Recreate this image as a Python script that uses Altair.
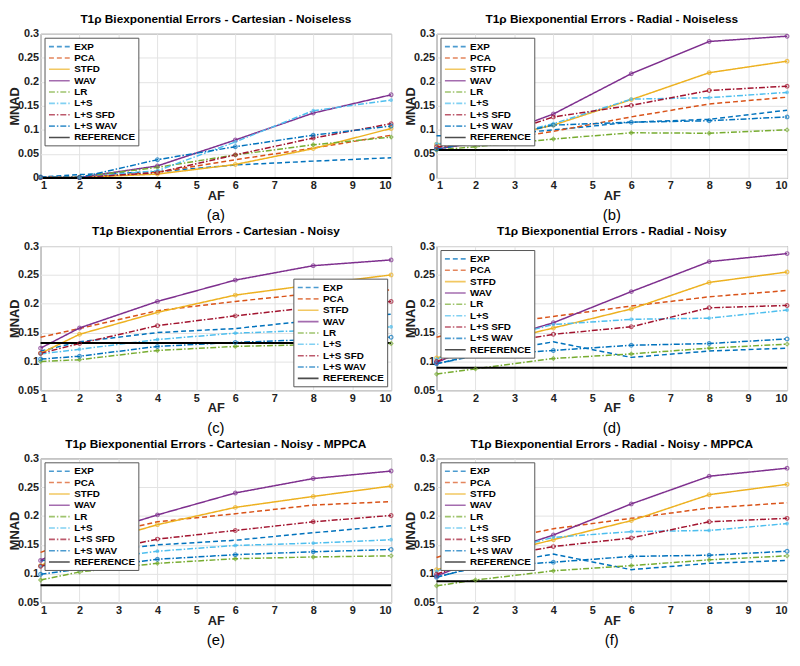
import altair as alt
import pandas as pd

AF = [1, 2, 4, 6, 8, 10]
METHODS = ["EXP", "PCA", "STFD", "WAV", "LR", "L+S", "L+S SFD", "L+S WAV", "REFERENCE"]
COLORS = ["#0072BD", "#D95319", "#EDB120", "#7E2F8E", "#77AC30", "#4DBEEE", "#A2142F", "#0072BD", "#000000"]
DASHES = [[5, 3], [5, 3], [1, 0], [1, 0], [6, 2, 1.5, 2], [6, 2, 1.5, 2], [6, 2, 1.5, 2], [6, 2, 1.5, 2], [1, 0]]
MARKED = ["STFD", "WAV", "LR", "L+S", "L+S SFD", "L+S WAV"]
SHAPES = ["circle", "circle", "diamond",
          "M-1,0L1,0M0,-1L0,1M-0.7,-0.7L0.7,0.7M-0.7,0.7L0.7,-0.7",
          "circle", "circle"]

PANEL_A = {
    "EXP": [0.002, 0.007, 0.013, 0.027, 0.035, 0.042],
    "PCA": [0.002, 0.001, 0.012, 0.038, 0.062, 0.089],
    "STFD": [0.001, 0.001, 0.008, 0.028, 0.061, 0.103],
    "WAV": [0.001, 0.001, 0.025, 0.079, 0.135, 0.173],
    "LR": [0.001, 0.002, 0.022, 0.048, 0.069, 0.085],
    "L+S": [0.001, 0.001, 0.015, 0.075, 0.140, 0.162],
    "L+S SFD": [0.001, 0.001, 0.011, 0.048, 0.083, 0.113],
    "L+S WAV": [0.002, 0.001, 0.038, 0.065, 0.089, 0.108],
}
PANEL_B = {
    "EXP": [0.088, 0.086, 0.100, 0.116, 0.122, 0.141],
    "PCA": [0.062, 0.071, 0.097, 0.127, 0.154, 0.168],
    "STFD": [0.070, 0.073, 0.110, 0.163, 0.219, 0.243],
    "WAV": [0.060, 0.073, 0.133, 0.217, 0.284, 0.295],
    "LR": [0.058, 0.065, 0.081, 0.094, 0.093, 0.100],
    "L+S": [0.071, 0.074, 0.113, 0.164, 0.167, 0.178],
    "L+S SFD": [0.065, 0.072, 0.127, 0.151, 0.182, 0.191],
    "L+S WAV": [0.060, 0.074, 0.110, 0.116, 0.119, 0.127],
}
PANEL_C = {
    "EXP": [0.118, 0.134, 0.150, 0.157, 0.171, 0.182],
    "PCA": [0.142, 0.157, 0.188, 0.204, 0.218, 0.224],
    "STFD": [0.114, 0.147, 0.185, 0.215, 0.233, 0.250],
    "WAV": [0.123, 0.158, 0.204, 0.241, 0.266, 0.276],
    "LR": [0.100, 0.103, 0.119, 0.126, 0.129, 0.131],
    "L+S": [0.113, 0.121, 0.138, 0.149, 0.154, 0.160],
    "L+S SFD": [0.114, 0.131, 0.162, 0.179, 0.194, 0.204],
    "L+S WAV": [0.104, 0.109, 0.126, 0.133, 0.138, 0.142],
}
PANEL_D = {
    "EXP": [0.096, 0.111, 0.134, 0.107, 0.118, 0.123],
    "PCA": [0.142, 0.160, 0.178, 0.196, 0.212, 0.223],
    "STFD": [0.106, 0.125, 0.158, 0.191, 0.237, 0.255],
    "WAV": [0.098, 0.127, 0.167, 0.221, 0.273, 0.287],
    "LR": [0.078, 0.087, 0.105, 0.113, 0.123, 0.130],
    "L+S": [0.104, 0.130, 0.164, 0.173, 0.175, 0.189],
    "L+S SFD": [0.100, 0.124, 0.147, 0.160, 0.193, 0.197],
    "L+S WAV": [0.096, 0.110, 0.119, 0.128, 0.131, 0.139],
}
PANEL_E = {
    "EXP": [0.122, 0.135, 0.150, 0.158, 0.171, 0.183],
    "PCA": [0.137, 0.160, 0.190, 0.204, 0.219, 0.225],
    "STFD": [0.114, 0.146, 0.185, 0.215, 0.234, 0.252],
    "WAV": [0.123, 0.160, 0.202, 0.240, 0.265, 0.278],
    "LR": [0.089, 0.103, 0.118, 0.126, 0.129, 0.131],
    "L+S": [0.113, 0.121, 0.139, 0.149, 0.153, 0.159],
    "L+S SFD": [0.113, 0.131, 0.160, 0.175, 0.190, 0.201],
    "L+S WAV": [0.099, 0.108, 0.125, 0.133, 0.138, 0.142],
}
PANEL_F = {
    "EXP": [0.094, 0.111, 0.134, 0.107, 0.118, 0.123],
    "PCA": [0.128, 0.150, 0.178, 0.196, 0.214, 0.223],
    "STFD": [0.107, 0.125, 0.159, 0.192, 0.237, 0.255],
    "WAV": [0.096, 0.123, 0.167, 0.221, 0.269, 0.283],
    "LR": [0.079, 0.089, 0.105, 0.114, 0.124, 0.131],
    "L+S": [0.104, 0.129, 0.163, 0.173, 0.175, 0.187],
    "L+S SFD": [0.099, 0.123, 0.147, 0.162, 0.190, 0.196],
    "L+S WAV": [0.094, 0.111, 0.120, 0.130, 0.132, 0.139],
}
REFERENCE = [0.0, 0.058, 0.132, 0.089, 0.080, 0.087]
TITLES = [
    "T1\u03c1 Biexponential Errors - Cartesian - Noiseless",
    "T1\u03c1 Biexponential Errors - Radial - Noiseless",
    "T1\u03c1 Biexponential Errors - Cartesian - Noisy",
    "T1\u03c1 Biexponential Errors - Radial - Noisy",
    "T1\u03c1 Biexponential Errors - Cartesian - Noisy - MPPCA",
    "T1\u03c1 Biexponential Errors - Radial - Noisy - MPPCA",
]
CAPTIONS = ["(a)", "(b)", "(c)", "(d)", "(e)", "(f)"]
YMIN = [0.0, 0.0, 0.05, 0.05, 0.05, 0.05]
LEGEND_POS = ["top-left", "top-left", "bottom-right", "top-left", "top-left", "top-left"]
YTICKS_0 = [0, 0.05, 0.1, 0.15, 0.2, 0.25, 0.3]
YTICKS_05 = [0.05, 0.1, 0.15, 0.2, 0.25, 0.3]

FONT = "Liberation Sans"
W, H = 355, 146


def panel(vals, ref, title, caption, ymin, lpos):
    rows = []
    for m in METHODS[:-1]:
        for af, v in zip(AF, vals[m]):
            rows.append({"AF": af, "MNAD": v, "method": m})
    for af in AF:
        rows.append({"AF": af, "MNAD": ref, "method": "REFERENCE"})
    df = pd.DataFrame(rows)

    x = alt.X("AF:Q", scale=alt.Scale(domain=[1, 10], nice=False),
              axis=alt.Axis(values=list(range(1, 11)), title="AF", titlePadding=-1,
                            labelPadding=2, ticks=False))
    y = alt.Y("MNAD:Q", scale=alt.Scale(domain=[ymin, 0.3], nice=False, zero=False),
              axis=alt.Axis(values=YTICKS_0 if ymin == 0 else YTICKS_05, format=".2~f",
                            title="MNAD", titleX=-19, titleBaseline="bottom",
                            labelPadding=2, ticks=False))
    leg = alt.Legend(title=None, orient=lpos, offset=4, fillColor="white",
                     strokeColor="#555", padding=3, labelFont=FONT, labelFontSize=10,
                     labelFontWeight="bold", labelColor="black",
                     symbolType="M-2.1,0L2.1,0", symbolStrokeWidth=1.6, symbolSize=100,
                     symbolOffset=6, rowPadding=0.5, labelLimit=200, labelOffset=9)
    color = alt.Color("method:N", scale=alt.Scale(domain=METHODS, range=COLORS), legend=leg)
    dash = alt.StrokeDash("method:N", scale=alt.Scale(domain=METHODS, range=DASHES), legend=leg)

    lines = alt.Chart(df).mark_line().encode(
        x=x, y=y, color=color, strokeDash=dash,
        strokeWidth=alt.condition("datum.method === 'REFERENCE'", alt.value(2), alt.value(1.5)),
    )
    pts = alt.Chart(df).transform_filter(
        alt.FieldOneOfPredicate(field="method", oneOf=MARKED)
    ).mark_point(filled=False, size=14, strokeWidth=1.2).encode(
        x=x, y=y, color=color,
        shape=alt.Shape("method:N", scale=alt.Scale(domain=MARKED, range=SHAPES), legend=None),
    )
    cap = alt.Chart(pd.DataFrame({"t": [caption]})).mark_text(
        font=FONT, fontSize=15, baseline="top", align="center"
    ).encode(text="t:N", x=alt.value(W / 2), y=alt.value(H + 31))

    return alt.layer(lines, pts, cap).properties(
        width=W, height=H,
        title=alt.TitleParams(text=title, font=FONT, fontSize=12, fontWeight="bold",
                              offset=2, anchor="middle", color="black"),
    )


panels_vals = [PANEL_A, PANEL_B, PANEL_C, PANEL_D, PANEL_E, PANEL_F]
charts = [panel(panels_vals[i], REFERENCE[i], TITLES[i], CAPTIONS[i], YMIN[i], LEGEND_POS[i])
          for i in range(6)]

chart = alt.concat(*charts, columns=2, spacing={"row": 0, "column": 8}).resolve_scale(
    color="independent", strokeDash="independent", shape="independent"
).resolve_legend(
    color="independent", strokeDash="independent", shape="independent"
).properties(
    padding={"left": 0, "top": 0, "right": 0, "bottom": 0}
).configure(background="white").configure_view(
    stroke="#555", strokeWidth=1
).configure_axis(
    labelFont=FONT, labelFontSize=11, labelFontWeight="bold", labelColor="#222",
    titleFont=FONT, titleFontSize=13, titleFontWeight="bold", titleColor="#222",
    grid=True, gridColor="#e3e3e3", domain=False
)

chart.save("out.html", embed_options={"renderer": "svg", "actions": False})
